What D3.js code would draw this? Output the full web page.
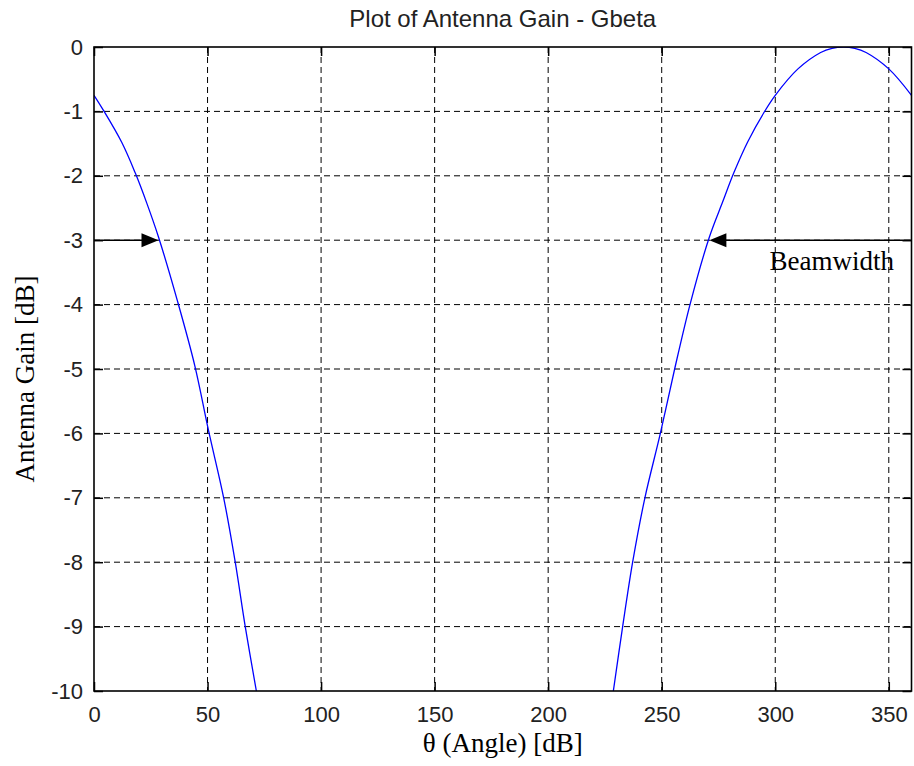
<!DOCTYPE html>
<html>
<head>
<meta charset="utf-8">
<script src="https://cdn.jsdelivr.net/npm/d3@7"></script>
<style>
    body { margin: 0; background: #fff; }
    .tick-label { font-family: "Liberation Sans", Arial, sans-serif; font-size: 22px; fill: #222; }
    .title { font-family: "Liberation Sans", Arial, sans-serif; font-size: 24px; fill: #222; }
    .serif { font-family: "Liberation Serif", "Times New Roman", serif; font-size: 27px; fill: #000; }
</style>
</head>
<body>
<div id="chart"></div>
<script>

// values
var xTicks = [0, 50, 100, 150, 200, 250, 300, 350];
var yTicks = [0, -1, -2, -3, -4, -5, -6, -7, -8, -9, -10];

// left lobe (falls off from 0 deg)
var leftAngle = [0, 4.1, 12.2, 18.1, 23.2, 28.4, 36.8, 44.4, 50.4, 57.1, 62.2, 66.6, 71.5];
var leftGain  = [-0.75, -0.98, -1.48, -1.95, -2.42, -2.95, -3.95, -4.95, -5.95, -7, -8, -9, -10];

// right lobe (main beam around 330 deg)
var rightAngle = [228.7, 232.8, 237.2, 242.6, 249.4, 255.7, 262.6, 271, 276.9, 281.8, 287.9, 295.5, 300, 310, 320, 325, 330, 335, 340, 350, 360];
var rightGain  = [-10, -9, -8, -7, -6, -5, -3.98, -2.95, -2.4, -1.95, -1.47, -0.99, -0.75, -0.34, -0.085, -0.02, 0, -0.02, -0.085, -0.34, -0.75];

// beamwidth arrows: tip angle, gain, direction
var arrowAngle = [28.4, 271];
var arrowGain = [-3, -3];
var arrowDir = ["right", "left"];

var outerWidth = 914, outerHeight = 766;

var xScale = d3.scaleLinear().domain([0, 360]).range([94, 911.5]);
var yScale = d3.scaleLinear().domain([-10, 0]).range([691, 47]);

var svg = d3.select("#chart")
    .append("svg")
    .attr("width", outerWidth)
    .attr("height", outerHeight);

svg.append("rect")
    .attr("width", outerWidth)
    .attr("height", outerHeight)
    .attr("fill", "#fff");

svg.append("clipPath")
    .attr("id", "plot-clip")
    .append("rect")
    .attr("x", xScale(0))
    .attr("y", yScale(0))
    .attr("width", xScale(360) - xScale(0))
    .attr("height", yScale(-10) - yScale(0));

/* grid */
svg.selectAll(".vgrid")
    .data(xTicks.filter(function (d) { return d > 0; }))
    .enter()
    .append("line")
    .attr("class", "vgrid")
    .attr("x1", function (d) { return xScale(d); })
    .attr("x2", function (d) { return xScale(d); })
    .attr("y1", yScale(0))
    .attr("y2", yScale(-10))
    .attr("stroke", "#000")
    .attr("stroke-width", 1)
    .attr("stroke-dasharray", "6,4");

svg.selectAll(".hgrid")
    .data(yTicks.filter(function (d) { return d > -10 && d < 0; }))
    .enter()
    .append("line")
    .attr("class", "hgrid")
    .attr("x1", xScale(0))
    .attr("x2", xScale(360))
    .attr("y1", function (d) { return yScale(d); })
    .attr("y2", function (d) { return yScale(d); })
    .attr("stroke", "#000")
    .attr("stroke-width", 1)
    .attr("stroke-dasharray", "6,4");

/* curve */
var line = d3.line()
    .x(function (d) { return xScale(d[0]); })
    .y(function (d) { return yScale(d[1]); })
    .curve(d3.curveCatmullRom.alpha(0.5));

var segments = [
    d3.zip(leftAngle, leftGain),
    d3.zip(rightAngle, rightGain)
];

svg.selectAll(".gain-line")
    .data(segments)
    .enter()
    .append("path")
    .attr("class", "gain-line")
    .attr("clip-path", "url(#plot-clip)")
    .attr("d", line)
    .attr("fill", "none")
    .attr("stroke", "#0000ff")
    .attr("stroke-width", 1.3);

/* beamwidth annotation */
var arrows = d3.zip(arrowAngle, arrowGain, arrowDir);

svg.selectAll(".arrow-line")
    .data(arrows)
    .enter()
    .append("line")
    .attr("class", "arrow-line")
    .attr("x1", function (d) { return d[2] === "right" ? xScale(0) : xScale(d[0]) + 16; })
    .attr("x2", function (d) { return d[2] === "right" ? xScale(d[0]) - 16 : xScale(360); })
    .attr("y1", function (d) { return yScale(d[1]); })
    .attr("y2", function (d) { return yScale(d[1]); })
    .attr("stroke", "#000")
    .attr("stroke-width", 1.5);

svg.selectAll(".arrow-head")
    .data(arrows)
    .enter()
    .append("path")
    .attr("class", "arrow-head")
    .attr("d", function (d) {
        var tx = xScale(d[0]), ty = yScale(d[1]);
        var s = d[2] === "right" ? -1 : 1;
        return "M" + tx + "," + ty +
            "L" + (tx + s * 17) + "," + (ty - 7) +
            "L" + (tx + s * 17) + "," + (ty + 7) + "Z";
    })
    .attr("fill", "#000");

svg.append("text")
    .attr("class", "serif")
    .attr("x", xScale(297.5))
    .attr("y", yScale(-3) + 30)
    .text("Beamwidth");

/* axes box */
svg.append("rect")
    .attr("x", xScale(0))
    .attr("y", yScale(0))
    .attr("width", xScale(360) - xScale(0))
    .attr("height", yScale(-10) - yScale(0))
    .attr("fill", "none")
    .attr("stroke", "#000")
    .attr("stroke-width", 1.6);

var tickLen = 9;

svg.append("g")
    .attr("transform", "translate(0," + yScale(-10) + ")")
    .call(d3.axisBottom(xScale).tickValues(xTicks).tickSize(-tickLen).tickPadding(15))
    .call(styleAxis);

svg.append("g")
    .attr("transform", "translate(0," + yScale(0) + ")")
    .call(d3.axisTop(xScale).tickValues(xTicks).tickSize(-tickLen).tickFormat(""))
    .call(styleAxis);

svg.append("g")
    .attr("transform", "translate(" + xScale(0) + ",0)")
    .call(d3.axisLeft(yScale).tickValues(yTicks).tickSize(-tickLen).tickPadding(11).tickFormat(d3.format("d")))
    .call(styleAxis);

svg.append("g")
    .attr("transform", "translate(" + xScale(360) + ",0)")
    .call(d3.axisRight(yScale).tickValues(yTicks).tickSize(-tickLen).tickFormat(""))
    .call(styleAxis);

function styleAxis(g) {
    g.select(".domain").remove();
    g.selectAll(".tick line").attr("stroke", "#000").attr("stroke-width", 1.5);
    g.selectAll(".tick text")
        .attr("class", "tick-label")
        .attr("fill", null);
    g.attr("font-family", null).attr("font-size", null);
}

// minus sign in the picture is a plain hyphen
svg.selectAll(".tick-label").text(function () {
    return d3.select(this).text().replace("\u2212", "-");
});

/* titles */
svg.append("text")
    .attr("class", "title")
    .attr("x", (xScale(0) + xScale(360)) / 2)
    .attr("y", 27)
    .attr("text-anchor", "middle")
    .text("Plot of Antenna Gain - Gbeta");

svg.append("text")
    .attr("class", "serif")
    .attr("x", (xScale(0) + xScale(360)) / 2)
    .attr("y", 752)
    .attr("text-anchor", "middle")
    .text("\u03b8 (Angle) [dB]");

svg.append("text")
    .attr("class", "serif")
    .attr("transform", "translate(34," + 379 + ") rotate(-90)")
    .attr("text-anchor", "middle")
    .text("Antenna Gain [dB]");

</script>
</body>
</html>
